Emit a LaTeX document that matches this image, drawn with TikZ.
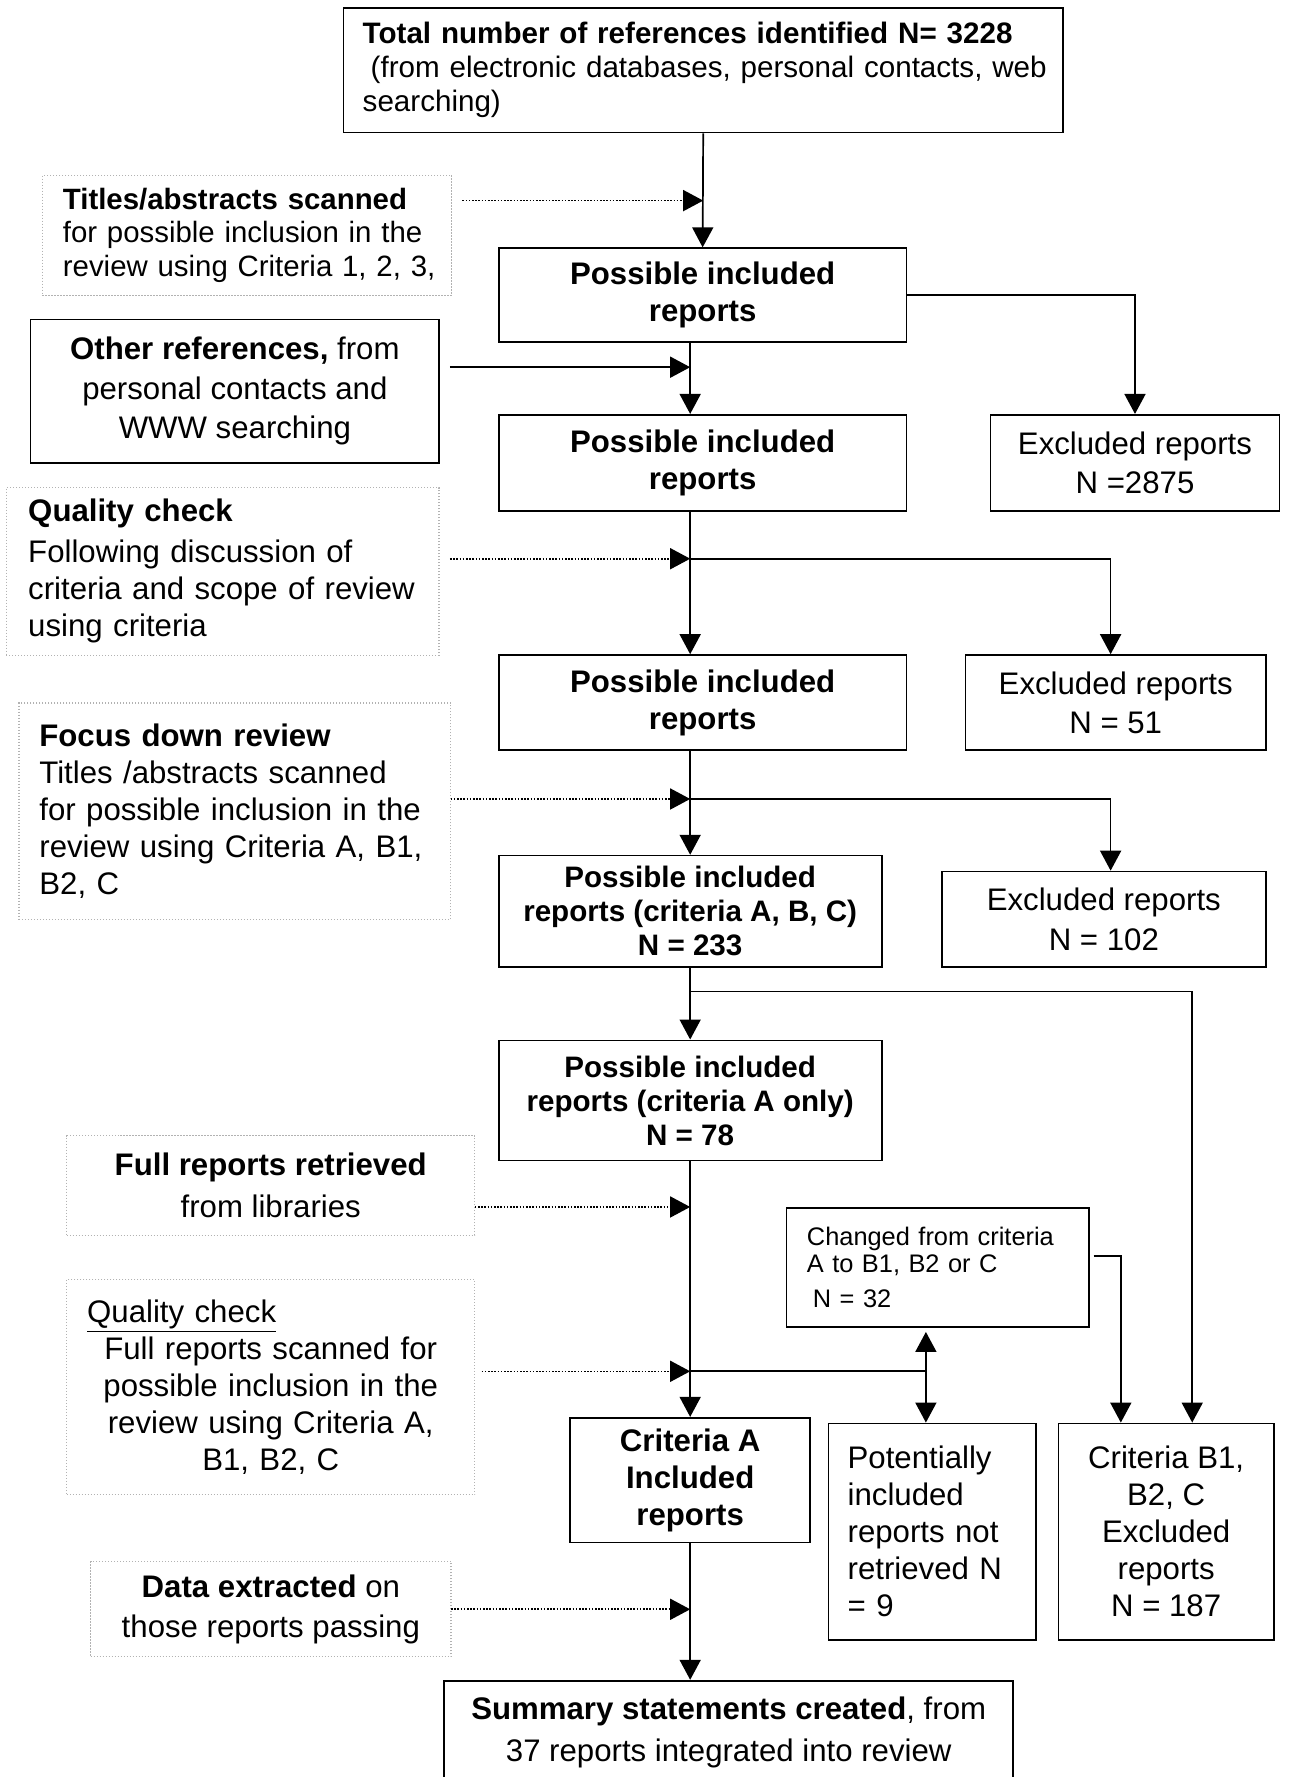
\documentclass[tikz,border=0pt]{standalone}
\usepackage{fontspec}
\setmainfont{Liberation Sans}
\usetikzlibrary{arrows.meta}
\newcommand{\fsz}[2]{\fontsize{#1}{#2}\selectfont}
\begin{document}
\begin{tikzpicture}[x=0.5668pt, y=-0.5668pt,
  every node/.style={font=\fsz{15.6}{18.5}, text=black},
  sz/.style 2 args={minimum width=#1*0.5668pt, minimum height=#2*0.5668pt},
  box/.style={draw, line width=0.85pt, inner sep=0pt, align=center},
  dbox/.style={draw=gray!60, line width=0.6pt, dash pattern=on 0.6pt off 0.9pt, inner sep=0pt, align=center},
  arr/.style={line width=0.85pt, -{Triangle[length=10pt,width=10.5pt]}},
  darr/.style={line width=0.8pt, dash pattern=on 0.8pt off 0.8pt, -{Triangle[length=10pt,width=10.5pt]}},
  ln/.style={line width=0.85pt}]
\useasboundingbox (0,0) rectangle (1138,1568);

% boxes
\node[box, sz={635}{110}, text width=340.6pt, align=left, font=\fsz{14.8}{17}] (top) at (620.5,62)
  {\mbox{\textbf{Total number of references identified N= 3228}}\\ \mbox{\hspace*{4pt}(from electronic databases, personal contacts, web}\\ \mbox{searching)}};
\node[dbox, sz={361}{106}, text width=184.2pt, align=left, font=\fsz{14.7}{16.7}] (t1) at (218,207.6)
  {\mbox{\textbf{Titles/abstracts scanned}}\\ \mbox{for possible inclusion in the}\\ \mbox{review using Criteria 1, 2, 3,}};
\node[box, sz={360}{83}, font=\fsz{15.6}{18.5}\bfseries] (p1) at (620,260.5) {Possible included\\reports};
\node[box, sz={360.5}{126.5}, font=\fsz{15.6}{19.8}] (oth) at (207.25,345.25)
  {\textbf{Other references,} from\\personal contacts and\\WWW searching};
\node[box, sz={360}{85}, font=\fsz{15.6}{18.5}\bfseries] (p2) at (620,408.5) {Possible included\\reports};
\node[box, sz={255}{85}, font=\fsz{15.6}{19.8}] (e1) at (1001.5,408.5) {Excluded reports\\N =2875};
\node[dbox, sz={382}{148}, text width=194.4pt, align=left] (q1) at (196.4,504.2)
  {\mbox{\textbf{Quality check}}\\[2pt] \mbox{Following discussion of}\\ \mbox{criteria and scope of review}\\ \mbox{using criteria}};
\node[box, sz={360}{84}, font=\fsz{15.6}{18.5}\bfseries] (p3) at (620,620) {Possible included\\reports};
\node[box, sz={265}{84}, font=\fsz{15.6}{19.3}] (e2) at (984.5,620) {Excluded reports\\N = 51};
\node[dbox, sz={381}{191}, text width=195.5pt, align=left] (f1) at (207.2,715.8)
  {\mbox{\textbf{Focus down review}}\\ \mbox{Titles /abstracts scanned}\\ \mbox{for possible inclusion in the}\\ \mbox{review using Criteria A, B1,}\\ \mbox{B2, C}};
\node[box, sz={338}{98}, font=\fsz{14.8}{17}\bfseries] (p4) at (609,804) {Possible included\\reports (criteria A, B, C)\\N = 233};
\node[box, sz={286}{84}, font=\fsz{15.6}{19.8}] (e3) at (974,811) {Excluded reports\\N = 102};
\node[box, sz={338}{106}, font=\fsz{14.8}{17}\bfseries] (p5) at (609,971) {Possible included\\reports (criteria A only)\\N = 78};
\node[dbox, sz={360}{88}, font=\fsz{15.6}{21}] (fr) at (238.9,1046) {\textbf{Full reports retrieved}\\from libraries};
\node[dbox, sz={360}{190}, text width=183.6pt, align=center] (q2) at (238.9,1224)
  {\makebox[183.6pt][l]{\underline{Quality check}}\\ Full reports scanned for\\ possible inclusion in the\\ review using Criteria A,\\ B1, B2, C};
\node[box, sz={267}{105}, text width=130.9pt, align=left, font=\fsz{12.7}{13.6}] (cc) at (827.5,1118.5)
  {\mbox{Changed from criteria}\\ \mbox{A to B1, B2 or C}\\[4pt] \mbox{\hspace*{3pt}N = 32}};
\node[box, sz={212}{110}, font=\fsz{15.6}{18.5}\bfseries] (ca) at (609,1306) {Criteria A\\Included\\reports};
\node[box, sz={183}{191}, text width=84.5pt, align=left] (pn) at (822.5,1351.5)
  {\mbox{Potentially}\\ \mbox{included}\\ \mbox{reports not}\\ \mbox{retrieved N}\\ \mbox{= 9}};
\node[box, sz={190}{191}] (cb) at (1029,1351.5) {Criteria B1,\\B2, C\\Excluded\\reports\\N = 187};
\node[dbox, sz={318}{84}, font=\fsz{15.6}{19.8}] (de) at (239,1420) {\textbf{Data extracted} on\\those reports passing};
\node[box, sz={502}{92}, font=\fsz{15.6}{21}] (sm) at (643,1529) {\textbf{Summary statements created}, from\\37 reports integrated into review};

% junctions and free ends
\coordinate (j0) at (620.5,177);
\coordinate (d0) at (408,177);
\coordinate (j1) at (609,324);
\coordinate (o1) at (397,324);
\coordinate (j2) at (609,493);
\coordinate (d2) at (397,493);
\coordinate (k2) at (980,493);
\coordinate (j3) at (609,705);
\coordinate (d3) at (397.6,705);
\coordinate (k3) at (980,705);
\coordinate (j4) at (609,875);
\coordinate (k4) at (1052,875);
\coordinate (j5) at (609,1065);
\coordinate (d5) at (419,1065);
\coordinate (j6) at (609,1210);
\coordinate (d6) at (425,1210);
\coordinate (k6) at (817,1210);
\coordinate (c7) at (965,1108);
\coordinate (c8) at (989,1108);
\coordinate (j8) at (609,1420);
\coordinate (d8) at (398,1420);

% connectors
\draw[arr] (top.south) -- (p1.north);
\draw[darr] (d0) -- (j0);
\draw[arr] (p1.east) -| (e1.north);
\draw[arr] (p1.south -| j1) -- (p2.north -| j1);
\draw[arr] (o1) -- (j1);
\draw[arr] (p2.south -| j2) -- (p3.north -| j2);
\draw[darr] (d2) -- (j2);
\draw[arr] (j2) -- (k2) -- (e2.north -| k2);
\draw[arr] (p3.south -| j3) -- (p4.north);
\draw[darr] (d3) -- (j3);
\draw[arr] (j3) -- (k3) -- (e3.north -| k3);
\draw[arr] (p4.south) -- (p5.north);
\draw[arr] (j4) -- (k4) -- (cb.north -| k4);
\draw[darr] (d5) -- (j5);
\draw[arr] (p5.south) -- (ca.north);
\draw[darr] (d6) -- (j6);
\draw[ln] (j6) -- (k6);
\draw[arr, shorten >=2pt] (k6) -- (cc.south -| k6);
\draw[arr] (k6) -- (pn.north -| k6);
\draw[arr] (c7) -- (c8) -- (cb.north -| c8);
\draw[arr] (ca.south) -- (ca.south |- sm.north);
\draw[darr] (d8) -- (j8);
\end{tikzpicture}
\end{document}
